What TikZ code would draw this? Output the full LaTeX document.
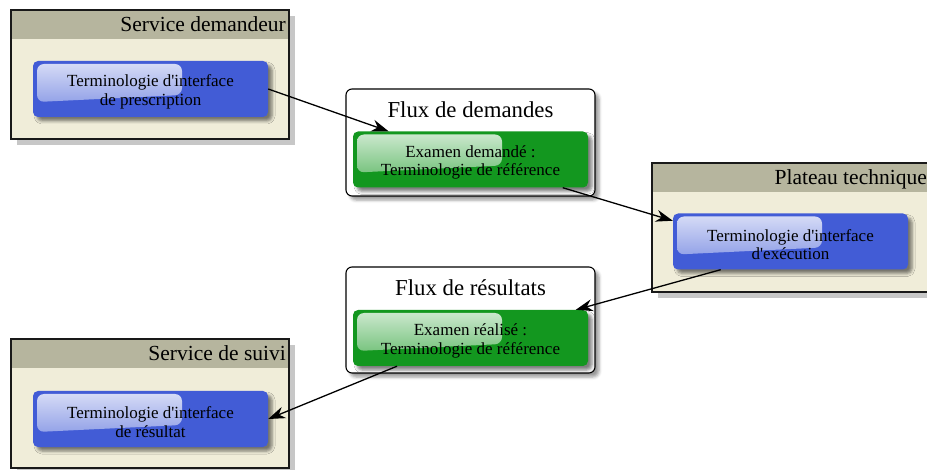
\documentclass[tikz,border=0pt]{standalone}
\usepackage{fontspec}
\setmainfont{Liberation Serif}
\usetikzlibrary{arrows.meta,shadows,shadows.blur}

\definecolor{headfill}{HTML}{B6B59E}
\definecolor{groupfill}{HTML}{F0EDD9}
\definecolor{termblue}{HTML}{425CD6}
\definecolor{termgreen}{HTML}{13971F}

\newcommand{\termstrut}{\rule{0pt}{18pt}}

\begin{document}
\begin{tikzpicture}[x=1pt, y=-1pt,
    group/.style={rectangle, draw=black!90, line width=1.3pt, fill=groupfill, outer sep=0pt,
        minimum width=278pt, minimum height=129pt,
        drop shadow={shadow xshift=6pt, shadow yshift=-6pt, fill=black!22, opacity=1},
        path picture={\fill[headfill] (path picture bounding box.north west) rectangle ([yshift=-29pt]path picture bounding box.north east);}},
    grouptitle/.style={font=\fontsize{21.5}{24}\selectfont, inner sep=0pt, anchor=base east},
    flux/.style={rectangle, rounded corners=6pt, draw=black, line width=1.1pt, fill=white,
        minimum width=249pt, minimum height=107pt,
        blur shadow={shadow xshift=4pt, shadow yshift=-4pt, shadow blur radius=3pt, shadow opacity=40}},
    fluxtitle/.style={font=\fontsize{22.8}{25}\selectfont, inner sep=0pt, anchor=base},
    term/.style={rectangle, rounded corners=5pt, fill=#1, minimum width=235pt, minimum height=56pt,
        align=center, font=\fontsize{17}{18.5}\selectfont,
        blur shadow={shadow xshift=4pt, shadow yshift=-4pt, shadow blur radius=3pt, shadow opacity=50},
        path picture={\shade[top color=white!80!#1, bottom color=white!30!#1, rounded corners=7pt]
            ([xshift=4pt,yshift=-3pt]path picture bounding box.north west) -- ++(145,0) -- ++(0,31)
            -- ([xshift=4pt,yshift=-41pt]path picture bounding box.north west) -- cycle;}},
    flow/.style={-{Stealth[length=17pt,width=12pt]}, line width=1.3pt}]

    \useasboundingbox (0,0) rectangle (927,470);

    % services
    \node[group] (sd) at (150,74.5) {};
    \node[grouptitle] (sdtitle) at ([xshift=-3pt,yshift=-22pt]sd.north east) {Service demandeur};
    \node[term=termblue] (sdterm) at (150.5,89) {\termstrut Terminologie d\textquotesingle{}interface\\de prescription};

    \node[group] (pt) at (791,227.5) {};
    \node[grouptitle] (pttitle) at ([xshift=-3pt,yshift=-22pt]pt.north east) {Plateau technique};
    \node[term=termblue] (ptterm) at (790.5,241.5) {\termstrut Terminologie d\textquotesingle{}interface\\d\textquotesingle{}exécution};

    \node[group] (ss) at (150,403.5) {};
    \node[grouptitle] (sstitle) at ([xshift=-3pt,yshift=-22pt]ss.north east) {Service de suivi};
    \node[term=termblue] (ssterm) at (150.5,419) {\termstrut Terminologie d\textquotesingle{}interface\\de résultat};

    % flux
    \node[flux] (fd) at (470.5,142.5) {};
    \node[fluxtitle] (fdtitle) at (470.5,118) {Flux de demandes};
    \node[term=termgreen] (fdterm) at (470.5,159.5) {\termstrut Examen demandé :\\Terminologie de référence};

    \node[flux, minimum height=106pt] (fr) at (470.5,320) {};
    \node[fluxtitle] (frtitle) at (470.5,296) {Flux de résultats};
    \node[term=termgreen] (frterm) at (470.5,338) {\termstrut Examen réalisé :\\Terminologie de référence};

    \draw[flow] (sdterm.east) -- (fdterm.161.6);
    \draw[flow] (fdterm.-17.7) -- (ptterm.170.6);
    \draw[flow] (ptterm.202.6) -- (frterm.15);
    \draw[flow] (frterm.201.5) -- (ssterm.0.7);
\end{tikzpicture}
\end{document}
